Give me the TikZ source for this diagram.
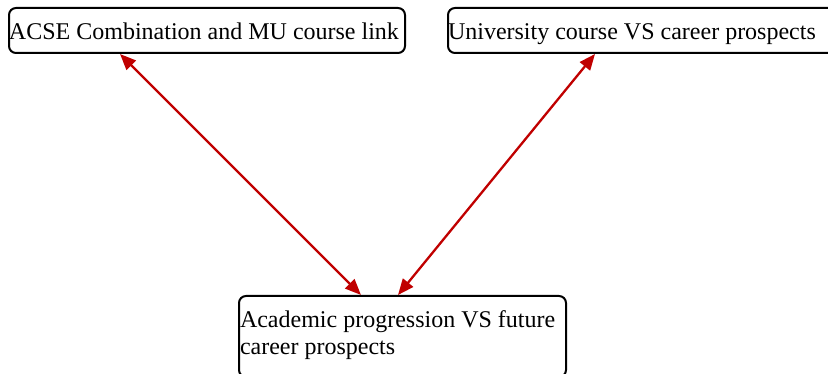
\documentclass[tikz,border=0pt]{standalone}
\usepackage{fontspec}
\setmainfont{Liberation Serif}
\usetikzlibrary{arrows.meta}
\definecolor{arrred}{RGB}{192,0,0}
\tikzset{
  box/.style={draw=black, line width=2pt, rounded corners=7pt, anchor=north west,
    inner sep=0pt, font=\fontsize{24}{28}\selectfont, align=flush left},
  link/.style={draw=arrred, line width=2.3pt,
    {Triangle[length=16pt,width=13pt]}-{Triangle[length=16pt,width=13pt]}}
}
\begin{document}
\begin{tikzpicture}[x=1pt,y=-1pt]
\useasboundingbox (0,0) rectangle (828,374);
\node[box, minimum width=396pt, text width=396pt] (a) at (8,7) {\rule[-13pt]{0pt}{45pt}ACSE Combination and MU course link};
\node[box, minimum width=388pt, text width=388pt] (b) at (447,7) {\rule[-13pt]{0pt}{45pt}University course VS career prospects};
\node[box, minimum width=327pt, text width=327pt] (c) at (238,295) {\hspace*{1pt}\rule{0pt}{31pt}Academic progression VS future\\\hspace*{1pt}career prospects\rule[-22pt]{0pt}{0pt}};
\draw[link] ([xshift=112pt]a.south west) -- ([xshift=123pt]c.north west);
\draw[link] ([xshift=148pt]b.south west) -- ([xshift=160pt]c.north west);
\end{tikzpicture}
\end{document}
